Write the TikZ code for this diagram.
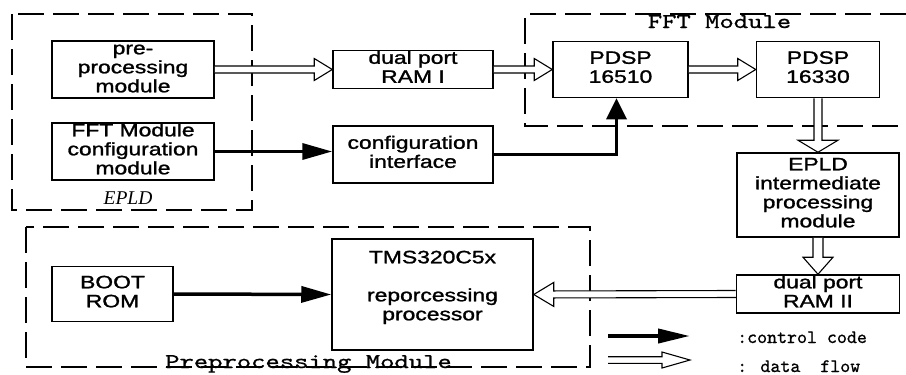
\documentclass[tikz,border=0pt]{standalone}
\usepackage{fontspec}
\setmainfont{Liberation Sans}
\newfontfamily\boxfont{Liberation Sans}[FakeBold=1.2]
\newfontfamily\monofont{lmmono10-regular.otf}[FakeBold=0.8]
\newfontfamily\serifit{Liberation Serif}
\usetikzlibrary{arrows.meta,calc}

% block captions: centred lines, widened horizontally
\newcommand\btext[1]{\scalebox{1.27}[1]{\begin{tabular}{@{}c@{}}#1\end{tabular}}}
% widened typewriter caption for the module outlines
\newcommand\gtext[1]{\scalebox{1.3}[1]{#1}}
% typewriter text of the key
\newcommand\ltext[1]{\scalebox{0.905}{#1}}

\tikzset{
  block/.style={draw, line width=1.5pt, inner sep=0pt,
    font=\boxfont\fontsize{18}{19}\selectfont},
  group/.style={draw, line width=2.3pt, dash pattern=on 26pt off 9pt},
  ctrl/.style={line width=3.5pt, -{Triangle[length=30pt,width=16pt]}},
  df shaft/.store in=\dfShaft, df head/.store in=\dfHead, df len/.store in=\dfLen,
  df shaft=3.5pt, df head=11pt, df len=18pt,
  % hollow "data flow" arrow drawn as an outlined polygon
  dataflow/.style={draw, fill=white, line width=1.1pt, line join=miter, to path={
    let \p1=(\tikztostart), \p2=(\tikztotarget),
        \n1={atan2(\y2-\y1,\x2-\x1)},
        \p3=($(\p2)+(\n1+180:\dfLen)$) in
    ($(\p1)+(\n1+90:\dfShaft)$) -- ($(\p3)+(\n1+90:\dfShaft)$)
    -- ($(\p3)+(\n1+90:\dfHead)$) -- (\p2)
    -- ($(\p3)+(\n1-90:\dfHead)$) -- ($(\p3)+(\n1-90:\dfShaft)$)
    -- ($(\p1)+(\n1-90:\dfShaft)$)}},
  grouplabel/.style={inner sep=0pt, anchor=base, font=\monofont\fontsize{21}{22}\selectfont},
  legendtext/.style={inner sep=0pt, anchor=base west, font=\monofont\fontsize{21}{22}\selectfont},
}

\begin{document}
\begin{tikzpicture}[x=1pt, y=-1pt]
\useasboundingbox[fill=white] (0,0) rectangle (906,375);

% dashed module outlines
\draw[group] (12,14) rectangle (252,210);
\draw[group] (26,227) rectangle (590,367);
\draw[group] (906,14) -- (525,14) -- (525,126) -- (906,126);

% blocks
\node[block, minimum width=162pt, minimum height=56pt] (pre) at (133,69.5) {\btext{pre-\\processing\\module}};
\node[block, minimum width=162pt, minimum height=53pt] (cfgmod) at (133,151.5) {\btext{FFT Module\\configuration\\module}};
\node[block, minimum width=160pt, minimum height=33pt] (ram1) at (413,69.5) {\btext{dual port\\RAM I}};
\node[block, minimum width=160pt, minimum height=57pt] (cfgif) at (413,154.5) {\btext{configuration\\interface}};
\node[block, minimum width=135pt, minimum height=56pt] (p1) at (620.5,69.5) {\btext{PDSP\\16510}};
\node[block, minimum width=123pt, minimum height=56pt] (p2) at (818,69.5) {\btext{PDSP\\16330}};
\node[block, minimum width=162pt, minimum height=84pt] (epi) at (818,195) {\btext{EPLD\\intermediate\\processing\\module}};
\node[block, minimum width=163pt, minimum height=33pt] (ram2) at (818,294) {\btext{dual port\\RAM II}};
\node[block, minimum width=121pt, minimum height=55pt] (boot) at (112.5,294) {\btext{BOOT\\ROM}};
\node[block, minimum width=201pt, minimum height=111pt] (tms) at (432.5,294.5) {};
\node[block, draw=none, anchor=north] (tmstext) at ([yshift=-11pt]tms.north) {\btext{TMS320C5x\\[19pt]reporcessing\\processor}};

% group labels
\node[inner sep=0pt, font=\serifit\itshape\fontsize{19.5}{20}\selectfont] (epldlabel) at (128,198) {EPLD};
\node[grouplabel] (fftlabel) at (719.5,28) {\gtext{FFT Module}};
\node[grouplabel] (pplabel) at (308.5,368) {\gtext{Preprocessing Module}};

% data flow
\draw[dataflow] (pre.east) to (ram1.west);
\draw[dataflow] (ram1.east) to (p1.west);
\draw[dataflow] (p1.east) to (p2.west);
\draw[dataflow, df shaft=4pt, df head=20pt, df len=12pt] (p2.south) to (epi.north);
\draw[dataflow, df shaft=5pt, df head=15pt, df len=17pt] (epi.south) to (ram2.north);
\draw[dataflow, df head=12pt, df len=20pt] (ram2.west) to (tms.east);

% control code
\draw[ctrl] (cfgmod.east) -- (cfgmod.east -| cfgif.west);
\draw[ctrl, -{Triangle[length=21pt,width=20pt]}] (cfgif.east) -| ([xshift=-4pt]p1.south);
\draw[ctrl] (boot.east) -- (tms.west);

% legend
\coordinate (lc1) at (608,336);
\coordinate (lc2) at (690,336);
\coordinate (ld1) at (608,360);
\coordinate (ld2) at (690,360);
\draw[line width=4pt, -{Triangle[length=32pt,width=14pt]}] (lc1) -- (lc2);
\draw[dataflow, df shaft=3.3pt, df head=8pt, df len=28pt] (ld1) to (ld2);
\node[legendtext] (lgc) at (737,343) {\ltext{:control code}};
\node[legendtext] (lgd) at (737,372) {\ltext{: data\hspace{11pt} flow}};
\end{tikzpicture}
\end{document}
